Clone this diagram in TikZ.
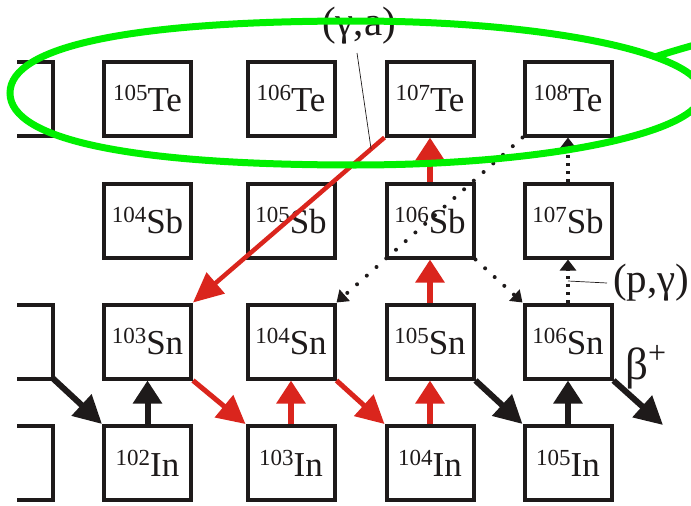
\documentclass[tikz,border=0pt]{standalone}
\usepackage{fontspec}
\setmainfont{Liberation Serif}
\usetikzlibrary{arrows.meta}
\definecolor{nred}{RGB}{218,37,29}
\definecolor{ngreen}{RGB}{0,240,0}
\definecolor{nblack}{RGB}{30,26,26}
\newcommand{\iso}[2]{{\fontsize{23pt}{23pt}\selectfont\raisebox{11pt}{#1}}#2}
\begin{document}
\begin{tikzpicture}[x=1pt,y=-1pt,
  nuc/.style={draw=nblack, line width=4pt, minimum width=87pt, minimum height=74pt,
    inner sep=0pt, font=\fontsize{35pt}{35pt}\selectfont, text=nblack},
  lbl/.style={inner sep=0pt, font=\fontsize{41pt}{41pt}\selectfont, text=nblack},
  partial/.style={draw=nblack, line width=4pt},
  redup/.style={draw=nred, line width=6pt, -{Triangle[length=23pt,width=28pt]}},
  blkup/.style={draw=nblack, line width=6pt, -{Triangle[length=23pt,width=28pt]}},
  reddiag/.style={draw=nred, line width=5pt, -{Triangle[length=28pt,width=28pt]}},
  blkdiag/.style={draw=nblack, line width=6pt, -{Triangle[length=28pt,width=28pt]}},
  redlong/.style={draw=nred, line width=4.5pt, -{Triangle[length=30pt,width=27pt]}},
  dotdiag/.style={draw=nblack, line width=4pt, line cap=round, dash pattern=on 0.01pt off 13pt,
    -{Triangle[length=11pt,width=15pt]}},
  dotvert/.style={draw=nblack, line width=3.2pt, dash pattern=on 3pt off 5pt,
    -{Triangle[length=11pt,width=16pt]}},
  leader/.style={draw=nblack, line width=0.7pt},
  lasso/.style={draw=ngreen, line width=7pt}
]
\useasboundingbox (0,0) rectangle (691,506);
\clip (0,0) rectangle (691,506);

% partial boxes on the left
\draw[partial] (17,61.5) -- (53,61.5) -- (53,135.5) -- (17,135.5);
\draw[partial] (17,304.5) -- (53,304.5) -- (53,378.5) -- (17,378.5);
\draw[partial] (17,426) -- (53,426) -- (53,500) -- (17,500);
\coordinate (snp) at (53,378.5);

% nuclei
\node[nuc] (te105) at (147.5,98.5) {\iso{105}{Te}};
\node[nuc] (te106) at (291,98.5) {\iso{106}{Te}};
\node[nuc] (te107) at (430,98.5) {\iso{107}{Te}};
\node[nuc] (te108) at (568,98.5) {\iso{108}{Te}};

\node[nuc] (sb104) at (147.5,220.5) {\iso{104}{Sb}};
\node[nuc] (sb105) at (291,220.5) {\iso{105}{Sb}};
\node[nuc] (sb106) at (430,220.5) {\iso{106}{Sb}};
\node[nuc] (sb107) at (568,220.5) {\iso{107}{Sb}};

\node[nuc] (sn103) at (147.5,341.5) {\iso{103}{Sn}};
\node[nuc] (sn104) at (291,341.5) {\iso{104}{Sn}};
\node[nuc] (sn105) at (430,341.5) {\iso{105}{Sn}};
\node[nuc] (sn106) at (568,341.5) {\iso{106}{Sn}};

\node[nuc] (in102) at (147.5,463) {\iso{102}{In}};
\node[nuc] (in103) at (291,463) {\iso{103}{In}};
\node[nuc] (in104) at (430,463) {\iso{104}{In}};
\node[nuc] (in105) at (568,463) {\iso{105}{In}};

% beta+ decays
\draw[blkdiag] (snp) -- (in102.north west);
\draw[reddiag] (sn103.south east) -- (in103.north west);
\draw[reddiag] (sn104.south east) -- (in104.north west);
\draw[blkdiag] (sn105.south east) -- (in105.north west);
\coordinate (bfree) at (663,425);
\draw[blkdiag] (sn106.south east) -- (bfree);

% proton captures
\draw[blkup] (in102.north) -- (sn103.south);
\draw[redup] (in103.north) -- (sn104.south);
\draw[redup] (in104.north) -- (sn105.south);
\draw[blkup] (in105.north) -- (sn106.south);
\draw[redup] (sn105.north) -- (sb106.south);
\draw[redup] (sb106.north) -- (te107.south);

% (gamma,a)
\draw[redlong] (te107.south west) -- coordinate[pos=0.07] (gaend) (sn103.north east);

% dotted
\draw[dotdiag] (te108.south west) -- (sn104.north east);
\draw[dotdiag] (sb106.south east) -- (sn106.north west);
\draw[dotvert] (sn106.north) -- coordinate[pos=0.5] (pgend) (sb107.south);
\draw[dotvert] (sb107.north) -- (te108.south);

% labels
\node[lbl, anchor=base west] (ga) at (322,35) {(γ,a)};
\coordinate (gastart) at (357,53);
\draw[leader] (gastart) -- (gaend);
\node[lbl, anchor=base west] (pg) at (613,292) {(p,γ)};
\coordinate (pglead) at (607,283);
\draw[leader] (pgend) -- (pglead);
\node[lbl, anchor=base west, font=\fontsize{45pt}{45pt}\selectfont] (bp) at (625,379)
  {β{\fontsize{32pt}{32pt}\selectfont\raisebox{16pt}{+}}};

% green lasso
\draw[lasso] (355,21) .. controls (546.5,21) and (702,53.3) .. (702,93)
  .. controls (702,132.7) and (546.5,165) .. (355,165)
  .. controls (130.75,165) and (10,139.8) .. (10,93)
  .. controls (10,46.2) and (130.75,21) .. (355,21) -- cycle;
\coordinate (tail0) at (655,57);
\coordinate (tail1) at (705,42);
\draw[lasso] (tail0) .. controls (670,52) .. (tail1);
\end{tikzpicture}
\end{document}
